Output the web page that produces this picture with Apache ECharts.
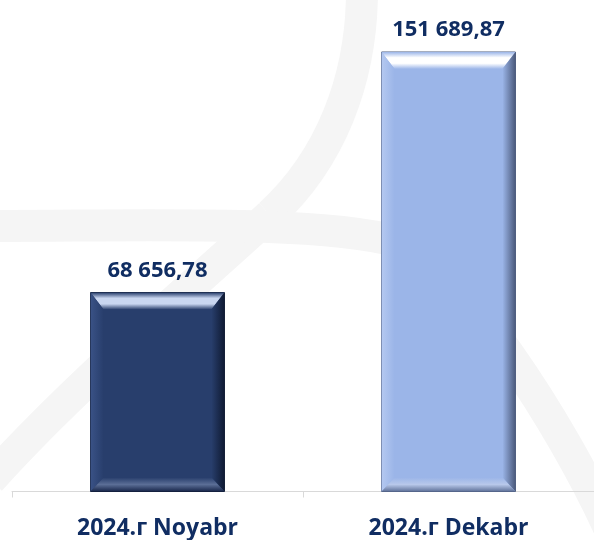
<!DOCTYPE html>
<html>
<head>
<meta charset="utf-8">
<script src="https://cdn.jsdelivr.net/npm/echarts@6/dist/echarts.min.js"></script>
<style>
  html, body { margin: 0; padding: 0; background: #fff; }
  #main { width: 594px; height: 540px; }
</style>
</head>
<body>
<div id="main"></div>
<script>
const categories = ['2024.г Noyabr', '2024.г Dekabr'];
const values = [68656.78, 151689.87];

// face, top highlight, left edge, right edge, bottom edge
const barColors = [
  { face: '#283e6c', hi: '#c9d6f0', left: '#3a5286', right: '#0f1a33', bottom: '#18264a', mid: '#5b6e96' },
  { face: '#9bb5e8', hi: '#ffffff', left: '#b4c8f0', right: '#4b5a7c', bottom: '#5f7199', mid: '#b8c8ea' }
];
const textColor = '#102d62';

function fmt(v) {
  const parts = v.toFixed(2).split('.');
  return parts[0].replace(/\B(?=(\d{3})+(?!\d))/g, ' ') + ',' + parts[1];
}

function lin(x, y, x2, y2, stops) {
  return {
    type: 'linear', x: x, y: y, x2: x2, y2: y2,
    colorStops: stops.map((c, i) => ({ offset: i / (stops.length - 1), color: c }))
  };
}

function renderItem(params, api) {
  const idx = api.value(0);
  const v = api.value(1);
  const top = api.coord([idx, v]);
  const base = api.coord([idx, 0]);
  const w = api.size([1, 0])[0] * 0.46;
  const x0 = top[0] - w / 2, x1 = top[0] + w / 2;
  const y0 = top[1], y1 = base[1];
  const bt = 17, bs = 13, bb = 14;
  const c = barColors[params.dataIndex];
  return {
    type: 'group',
    children: [
      { type: 'rect', shape: { x: x0, y: y0, width: w, height: y1 - y0 }, style: { fill: c.face, stroke: c.right, lineWidth: 1 } },
      { type: 'polygon', shape: { points: [[x0, y0], [x1, y0], [x1 - bs, y0 + bt], [x0 + bs, y0 + bt]] },
        style: { fill: lin(0, 0, 0, 1, [c.face, c.hi, c.hi, c.face]) } },
      { type: 'polygon', shape: { points: [[x0, y0], [x0 + bs, y0 + bt], [x0 + bs, y1 - bb], [x0, y1]] },
        style: { fill: lin(0, 0, 1, 0, [c.left, c.face]) } },
      { type: 'polygon', shape: { points: [[x1, y0], [x1, y1], [x1 - bs, y1 - bb], [x1 - bs, y0 + bt]] },
        style: { fill: lin(0, 0, 1, 0, [c.face, c.right]) } },
      { type: 'polygon', shape: { points: [[x0, y1], [x0 + bs, y1 - bb], [x1 - bs, y1 - bb], [x1, y1]] },
        style: { fill: lin(0, 0, 0, 1, [c.face, c.mid, c.bottom]) } },
      { type: 'text', style: { text: fmt(v), x: top[0], y: y0 - 22, align: 'center', verticalAlign: 'middle',
        font: 'bold 22px "Open Sans", sans-serif', fill: textColor } }
    ]
  };
}

const band = { fill: null, stroke: '#f5f5f5', lineWidth: 32 };

const chart = echarts.init(document.getElementById('main'));
chart.setOption({
  backgroundColor: '#ffffff',
  animation: false,
  graphic: [
    { type: 'bezierCurve', z: -10, silent: true,
      shape: { x1: 362, y1: -10, cpx1: 362, cpy1: 80, cpx2: 330, cpy2: 160, x2: 270, y2: 215 }, style: band },
    { type: 'bezierCurve', z: -10, silent: true,
      shape: { x1: 270, y1: 215, cpx1: 200, cpy1: 280, cpx2: 80, cpy2: 380, x2: -10, y2: 480 }, style: band },
    { type: 'bezierCurve', z: -10, silent: true,
      shape: { x1: -10, y1: 226, cpx1: 150, cpy1: 226, cpx2: 320, cpy2: 220, x2: 400, y2: 242 }, style: band },
    { type: 'bezierCurve', z: -10, silent: true,
      shape: { x1: 400, y1: 242, cpx1: 460, cpy1: 268, cpx2: 560, cpy2: 420, x2: 610, y2: 530 }, style: band }
  ],
  grid: { left: 12, width: 594, top: 52, bottom: 47 },
  xAxis: {
    type: 'category',
    data: categories,
    axisLine: { lineStyle: { color: '#d9d9d9', width: 1 } },
    axisTick: { show: true, length: 6, lineStyle: { color: '#d9d9d9' } },
    axisLabel: { margin: 37, verticalAlign: 'middle', fontSize: 23, fontWeight: 'bold',
      fontFamily: '"Open Sans", sans-serif', color: textColor, interval: 0 }
  },
  yAxis: { type: 'value', min: 0, max: 'dataMax', show: false, splitLine: { show: false } },
  series: [{
    type: 'custom',
    renderItem: renderItem,
    encode: { x: 0, y: 1 },
    data: values.map((v, i) => [i, v])
  }]
});
</script>
</body>
</html>
